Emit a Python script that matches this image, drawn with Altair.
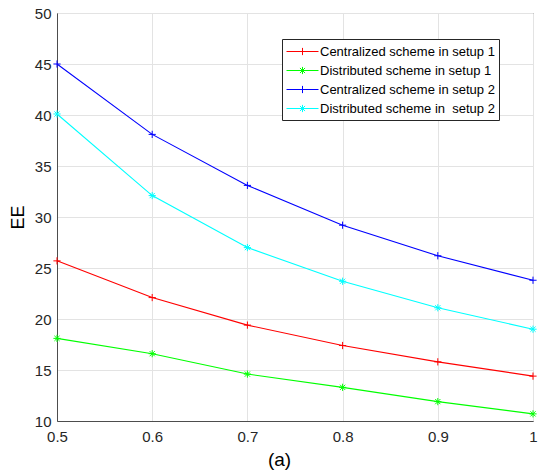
import altair as alt
import pandas as pd

x_vals = [0.5, 0.6, 0.7, 0.8, 0.9, 1.0]
series_names = [
    "Centralized scheme in setup 1",
    "Distributed scheme in setup 1",
    "Centralized scheme in setup 2",
    "Distributed scheme in\u00a0 setup 2",
]
cent1 = [25.7, 22.1, 19.4, 17.4, 15.8, 14.4]
dist1 = [18.1, 16.6, 14.6, 13.3, 11.9, 10.7]
cent2 = [45.0, 38.1, 33.1, 29.2, 26.2, 23.8]
dist2 = [40.1, 32.1, 27.0, 23.7, 21.1, 19.0]
colors = ["#FF0000", "#00FF00", "#0000FF", "#00FFFF"]
y_ticks = [10, 15, 20, 25, 30, 35, 40, 45, 50]

plus_path = "M-1,0L1,0M0,-1L0,1"
star_path = "M-1,0L1,0M0,-1L0,1M-0.72,-0.72L0.72,0.72M-0.72,0.72L0.72,-0.72"
shapes = [plus_path, star_path, plus_path, star_path]
leg_plus = "M-2,0L2,0M0,-0.45L0,0.45"
leg_star = "M-2,0L2,0M0,-0.45L0,0.45M-0.32,-0.32L0.32,0.32M-0.32,0.32L0.32,-0.32"
leg_shapes = [leg_plus, leg_star, leg_plus, leg_star]

rows = []
for name, vals in zip(series_names, [cent1, dist1, cent2, dist2]):
    for i, (xv, yv) in enumerate(zip(x_vals, vals)):
        rows.append({"x": xv, "y": yv, "series": name, "order": i})
df = pd.DataFrame(rows)

FONT = "Liberation Sans"

x_enc = alt.X(
    "x:Q",
    scale=alt.Scale(domain=[0.5, 1.0], nice=False, zero=False),
    axis=alt.Axis(
        values=x_vals,
        labelExpr="datum.value == 1 ? '1' : format(datum.value, '.1f')",
        title="(a)",
        titleX=222,
        titleY=44,
        titleBaseline="alphabetic",
        titleAlign="center",
        titleAnchor="start",
        titleFontSize=19,
        titleFontWeight="normal",
        titleColor="#000000",
        labelPadding=8,
        labelFlush=False,
    ),
)
y_enc = alt.Y(
    "y:Q",
    scale=alt.Scale(domain=[10, 50], nice=False, zero=False),
    axis=alt.Axis(
        values=y_ticks,
        title="EE",
        titleFontSize=18,
        titleFontWeight="normal",
        titleColor="#000000",
        titlePadding=7,
        labelPadding=6,
    ),
)

color_scale = alt.Scale(domain=series_names, range=colors)
shape_scale = alt.Scale(domain=series_names, range=shapes)
leg_shape_scale = alt.Scale(domain=series_names, range=leg_shapes)

lines = alt.Chart(df).mark_line(strokeWidth=1.1).encode(
    x=x_enc,
    y=y_enc,
    color=alt.Color("series:N", scale=color_scale, legend=None),
    order="order:Q",
)

points = alt.Chart(df).mark_point(filled=False, size=52, strokeWidth=1, opacity=1).encode(
    x=x_enc,
    y=y_enc,
    color=alt.Color("series:N", scale=color_scale, legend=None),
    shape=alt.Shape("series:N", scale=shape_scale, legend=None),
)

legend = alt.Legend(
    title=None,
    orient="none",
    legendX=225,
    legendY=26,
    fillColor="#FFFFFF",
    strokeColor="#262626",
    padding=4,
    rowPadding=3,
    labelFont=FONT,
    labelFontSize=13,
    labelColor="#000000",
    labelOffset=9,
    symbolOffset=8,
    symbolSize=256,
    symbolStrokeWidth=1,
    symbolOpacity=1,
    labelLimit=300,
)

legend_layer = alt.Chart(df).mark_point(filled=False, size=1, strokeWidth=1, opacity=0).encode(
    x=x_enc,
    y=y_enc,
    color=alt.Color("series:N", scale=color_scale, legend=legend),
    shape=alt.Shape("series:N", scale=leg_shape_scale, legend=legend),
)

chart = (
    alt.layer(lines, points, legend_layer)
    .resolve_scale(shape="independent", color="independent")
    .properties(
        width=476,
        height=408,
        autosize=alt.AutoSizeParams(type="none"),
        padding={"left": 57, "top": 13, "right": 6, "bottom": 50},
        background="#FFFFFF",
    )
    .configure_view(stroke="#4D4D4D", strokeWidth=1)
    .configure_axis(
        labelFont=FONT,
        titleFont=FONT,
        labelFontSize=15,
        labelColor="#262626",
        domainColor="#4D4D4D",
        domainWidth=1,
        tickSize=0,
        grid=True,
        gridColor="#E3E3E3",
        gridWidth=1,
    )
)

chart.save("out.html", embed_options={"renderer": "svg", "actions": False})
